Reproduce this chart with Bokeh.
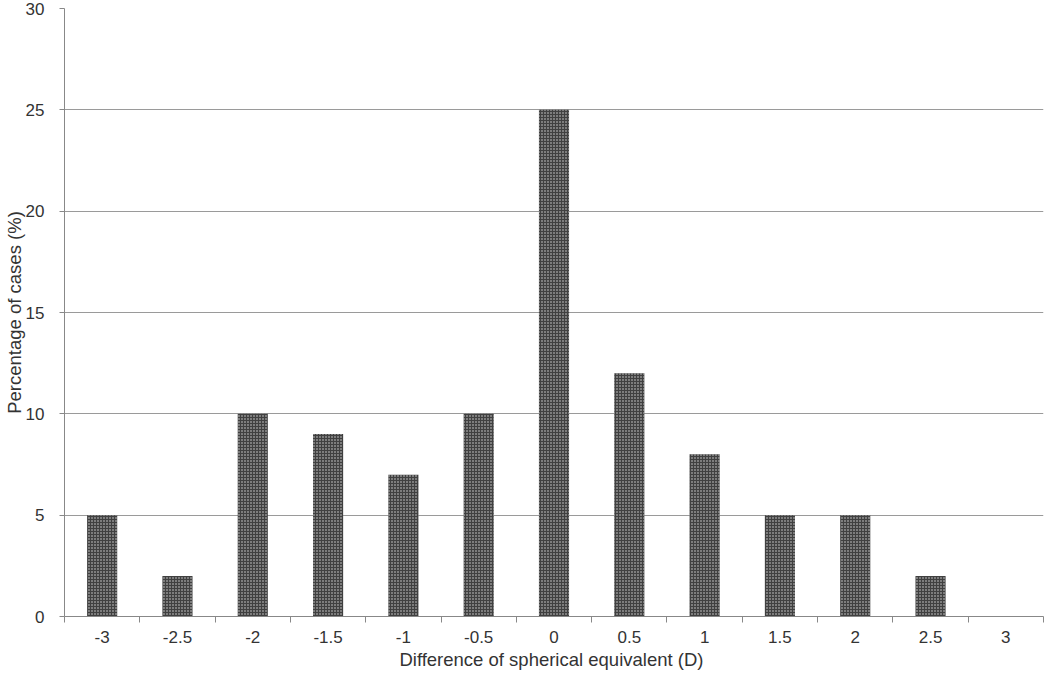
from bokeh.plotting import figure
from bokeh.models import FixedTicker, ColumnDataSource
from bokeh.embed import file_html
from bokeh.resources import INLINE

categories = ["-3", "-2.5", "-2", "-1.5", "-1", "-0.5", "0", "0.5", "1", "1.5", "2", "2.5", "3"]
percentages = [5, 2, 10, 9, 7, 10, 25, 12, 8, 5, 5, 2, 0]
y_ticks = [0, 5, 10, 15, 20, 25, 30]

positions = list(range(len(categories)))
src = ColumnDataSource(dict(x=positions, top=percentages))

p = figure(width=1048, height=675, output_backend="svg", toolbar_location=None,
           x_range=(-0.5, len(categories) - 0.5), y_range=(0, 30),
           min_border_left=64, min_border_right=5, min_border_top=8, min_border_bottom=59)
p.outline_line_color = None

p.vbar(x="x", top="top", width=0.4, source=src, fill_color="#404040", line_color=None,
       hatch_pattern="dot", hatch_color="#d8d8d8", hatch_scale=3, hatch_weight=1)

xt = FixedTicker(ticks=positions, minor_ticks=[i - 0.5 for i in range(len(categories) + 1)])
p.xaxis.ticker = xt
p.xaxis.major_label_overrides = {i: c for i, c in enumerate(categories)}
p.xaxis.major_tick_out = 0
p.xaxis.major_tick_in = 0
p.xaxis.minor_tick_out = 6
p.xaxis.minor_tick_in = 0
p.xaxis.minor_tick_line_color = "#888888"
p.xaxis.axis_label = "Difference of spherical equivalent  (D)"

p.yaxis.ticker = FixedTicker(ticks=y_ticks)
p.yaxis.major_tick_out = 5
p.yaxis.major_tick_in = 0
p.yaxis.minor_tick_out = 0
p.yaxis.minor_tick_in = 0
p.yaxis.axis_label = "Percentage of cases (%)"

for ax in (p.xaxis, p.yaxis):
    ax.axis_line_color = "#888888"
    ax.major_tick_line_color = "#888888"
    ax.major_label_text_font = "Liberation Sans"
    ax.major_label_text_font_size = "17px"
    ax.major_label_text_color = "#333333"
    ax.axis_label_text_font = "Liberation Sans"
    ax.axis_label_text_font_size = "18.5px"
    ax.axis_label_text_font_style = "normal"
    ax.axis_label_text_color = "#333333"

p.xaxis.major_label_standoff = 8
p.xaxis.axis_label_standoff = 3
p.yaxis.major_label_standoff = 15
p.yaxis.axis_label_standoff = -2

p.xgrid.grid_line_color = None
p.ygrid.ticker = FixedTicker(ticks=y_ticks)
p.ygrid.grid_line_color = "#9a9a9a"
p.ygrid.grid_line_width = 1

open("out.html", "w").write(file_html(p, INLINE))
